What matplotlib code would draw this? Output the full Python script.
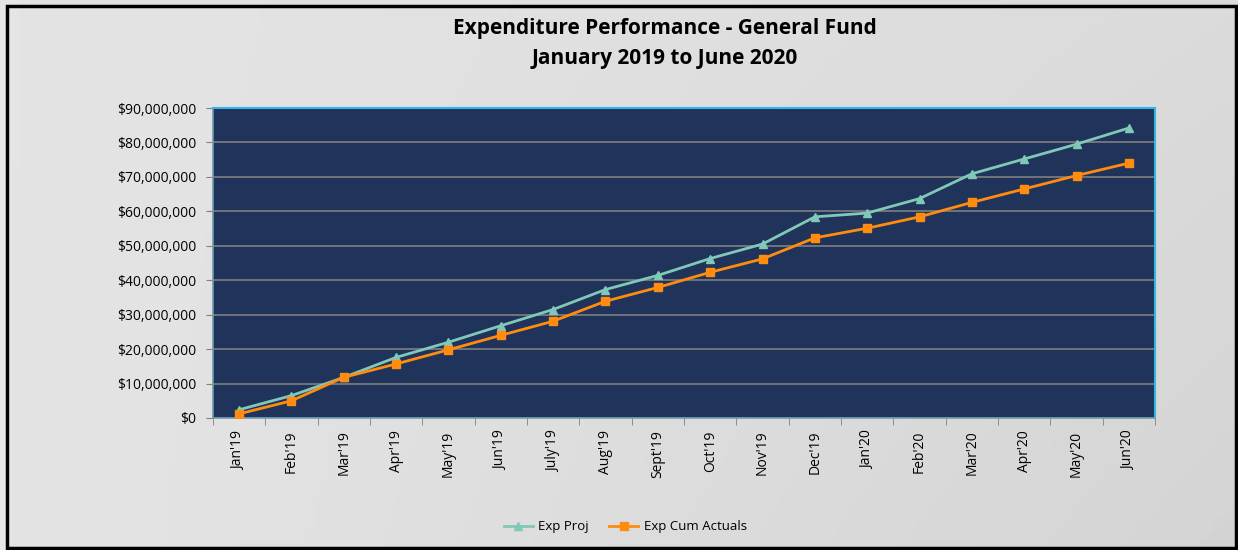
import numpy as np
import matplotlib
matplotlib.use('Agg')
import matplotlib.pyplot as plt
from matplotlib.ticker import FuncFormatter, FixedLocator
from matplotlib.patches import Rectangle

# Данные (млн $)
months = ["Jan'19", "Feb'19", "Mar'19", "Apr'19", "May'19", "Jun'19", "July'19",
          "Aug'19", "Sept'19", "Oct'19", "Nov'19", "Dec'19", "Jan'20", "Feb'20",
          "Mar'20", "Apr'20", "May'20", "Jun'20"]
exp_proj = [2.4, 6.5, 11.8, 17.6, 22.0, 26.8, 31.5, 37.3, 41.4, 46.3, 50.5,
            58.4, 59.5, 63.7, 70.9, 75.2, 79.5, 84.2]
exp_actual = [1.2, 5.0, 11.8, 15.7, 19.8, 24.0, 28.1, 33.9, 37.9, 42.3, 46.2,
              52.3, 55.1, 58.4, 62.6, 66.5, 70.4, 74.0]

plt.rcParams['font.family'] = ['Open Sans', 'DejaVu Sans']

fig = plt.figure(figsize=(12.38, 5.5), dpi=100)

# фон с лёгким градиентом
bg = fig.add_axes([0, 0, 1, 1], zorder=-10)
gx = np.linspace(0, 1, 200)
grad = 0.895 - 0.065 * gx[None, :] * np.linspace(0.6, 1, 100)[:, None]
bg.imshow(grad, cmap='gray', vmin=0, vmax=1, aspect='auto', extent=[0, 1, 0, 1])
bg.add_patch(Rectangle((0.0055, 0.004), 0.9925, 0.986, transform=bg.transAxes,
                       fill=False, edgecolor='black', linewidth=2.5))
bg.set_xlim(0, 1)
bg.set_ylim(0, 1)
bg.axis('off')

ax = fig.add_axes([0.172, 0.24, 0.761, 0.5636])
ax.set_facecolor('#20335a')

x = np.arange(len(months))
ax.plot(x, exp_proj, color='#80c8b8', lw=2, marker='^', ms=6, label='Exp Proj', zorder=3)
ax.plot(x, exp_actual, color='#ff8c0f', lw=2, marker='s', ms=6, label='Exp Cum Actuals', zorder=4)

ax.set_xlim(-0.5, len(months) - 0.5)
ax.set_ylim(0, 90)
ax.set_yticks(np.arange(0, 91, 10))
ax.yaxis.set_major_formatter(FuncFormatter(lambda v, p: '${:,.0f}'.format(v * 1e6)))
ax.grid(axis='y', color='#7f7f7f', lw=1.2)
ax.set_axisbelow(True)

ax.set_xticks(x)
ax.set_xticklabels(months, rotation=90, fontsize=10)
ax.xaxis.set_minor_locator(FixedLocator(np.arange(-0.5, len(months), 1)))
ax.tick_params(axis='x', which='major', length=0, pad=9)
ax.tick_params(axis='x', which='minor', length=5, color='#808080')
ax.tick_params(axis='y', length=5, color='#808080', labelsize=10, pad=7)

for s in ['left', 'bottom']:
    ax.spines[s].set_color('#6a9bb0')
    ax.spines[s].set_linewidth(1.2)
for s in ['top', 'right']:
    ax.spines[s].set_color('#33b5e8')
    ax.spines[s].set_linewidth(1.5)

fig.text(0.537, 0.949, 'Expenditure Performance - General Fund', ha='center', va='center',
         fontsize=15, fontweight='bold')
fig.text(0.537, 0.894, 'January 2019 to June 2020', ha='center', va='center',
         fontsize=15, fontweight='bold')

fig.legend(loc='center', bbox_to_anchor=(0.505, 0.042), ncol=2, frameon=False,
           fontsize=9.5, handlelength=2.2, handletextpad=0.4, columnspacing=1.6)

fig.savefig('out.png', dpi=100)
